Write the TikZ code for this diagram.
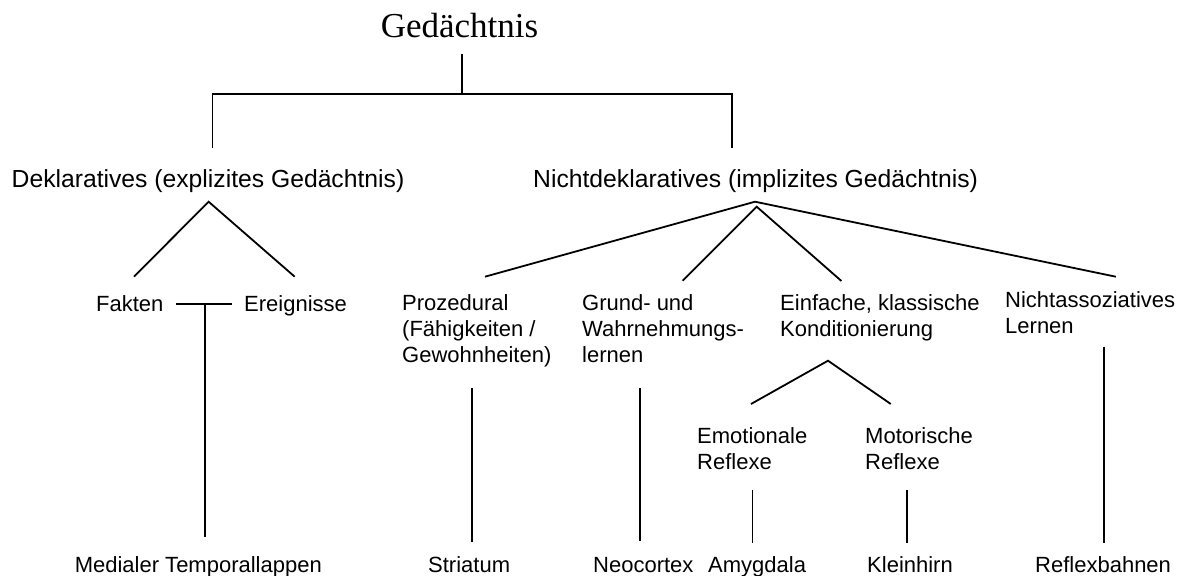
\documentclass[tikz,border=0pt]{standalone}
\usepackage{fontspec}
\setmainfont{Liberation Sans}
\newfontfamily\gedserif{Liberation Serif}
\tikzset{
  ln/.style={line width=1.8pt, line cap=butt},
  title/.style={font=\gedserif\fontsize{35}{38}\selectfont, inner sep=0, anchor=base},
  big/.style={font=\fontsize{24.7}{26.5}\selectfont, inner sep=0, anchor=base west},
  lbl/.style={font=\fontsize{22}{26}\selectfont, inner sep=0, anchor=base west},
  mlbl/.style={font=\fontsize{22}{26}\selectfont, inner sep=0, align=left, anchor=north west}
}
\begin{document}
\begin{tikzpicture}[x=1pt,y=-1pt]
\useasboundingbox (0,0) rectangle (1182,575);
\fill[white] (0,0) rectangle (1182,575);

% text nodes
\node[title] (ged) at (459.5,37.3) {Gedächtnis};
\node[big] (dekl) at (11.5,187.5) {Deklaratives (explizites Gedächtnis)};
\node[big] (nicht) at (533,187.5) {Nichtdeklaratives (implizites Gedächtnis)};
\node[lbl] (fakten) at (96,311) {Fakten};
\node[lbl] (ereig) at (244,311) {Ereignisse};
\node[mlbl] (proz) at (402,294.8) {Prozedural\\(Fähigkeiten /\\Gewohnheiten)};
\node[mlbl] (grund) at (582,294.8) {Grund- und\\Wahrnehmungs-\\lernen};
\node[mlbl] (einf) at (780,294.8) {Einfache, klassische\\Konditionierung};
\node[mlbl] (nass) at (1005,291.3) {Nichtassoziatives\\Lernen};
\node[mlbl] (emo) at (697,427.3) {Emotionale\\Reflexe};
\node[mlbl] (mot) at (865,427.3) {Motorische\\Reflexe};
\node[lbl] (mtl) at (74.6,572.5) {Medialer Temporallappen};
\node[lbl] (stri) at (428,572.5) {Striatum};
\node[lbl] (neo) at (593,572.5) {Neocortex};
\node[lbl] (amy) at (708,572.5) {Amygdala};
\node[lbl] (klein) at (867,572.5) {Kleinhirn};
\node[lbl] (refl) at (1035,572.5) {Reflexbahnen};

% connector end points
\coordinate (gedfoot) at (462.3,54.3);
\coordinate (gedjoint) at (462.3,94.3);
\coordinate (deklhead) at (212.4,147.7);
\coordinate (nichthead) at (731.7,147.7);
\coordinate (deklapex) at (208.6,201.7);
\coordinate (faktenhead) at (134,276.7);
\coordinate (ereighead) at (294.7,276.7);
\coordinate (fkleft) at (176,304);
\coordinate (fkright) at (231.7,304);
\coordinate (fkjoint) at (205,304);
\coordinate (mtlhead) at (205,537);
\coordinate (nichtapex) at (755,201.7);
\coordinate (nichtapexb) at (756.7,206.7);
\coordinate (prozhead) at (485,276.7);
\coordinate (nasshead) at (1115.8,276.7);
\coordinate (grundhead) at (682.6,280.7);
\coordinate (einfhead) at (841.4,281);
\coordinate (prozfoot) at (471.7,388.3);
\coordinate (strihead) at (471.7,541.7);
\coordinate (grundfoot) at (639.8,388.3);
\coordinate (neohead) at (639.8,541);
\coordinate (einfapex) at (828,360.7);
\coordinate (emohead) at (751,404);
\coordinate (mothead) at (890.8,404);
\coordinate (emofoot) at (752.5,490);
\coordinate (amyhead) at (752.5,543.3);
\coordinate (motfoot) at (907.2,490);
\coordinate (kleinhead) at (907.2,543.3);
\coordinate (nassfoot) at (1104.3,346.7);
\coordinate (reflhead) at (1104.3,543.3);

% connectors
\draw[ln] (gedfoot) -- (gedjoint);
\draw[ln] (deklhead) |- (gedjoint) -| (nichthead);
\draw[ln] (faktenhead) -- (deklapex) -- (ereighead);
\draw[ln] (fkleft) -- (fkright);
\draw[ln] (fkjoint) -- (mtlhead);
\draw[ln] (prozhead) -- (nichtapex) -- (nasshead);
\draw[ln] (grundhead) -- (nichtapexb) -- (einfhead);
\draw[ln] (prozfoot) -- (strihead);
\draw[ln] (grundfoot) -- (neohead);
\draw[ln] (emohead) -- (einfapex) -- (mothead);
\draw[ln] (emofoot) -- (amyhead);
\draw[ln] (motfoot) -- (kleinhead);
\draw[ln] (nassfoot) -- (reflhead);
\end{tikzpicture}
\end{document}
